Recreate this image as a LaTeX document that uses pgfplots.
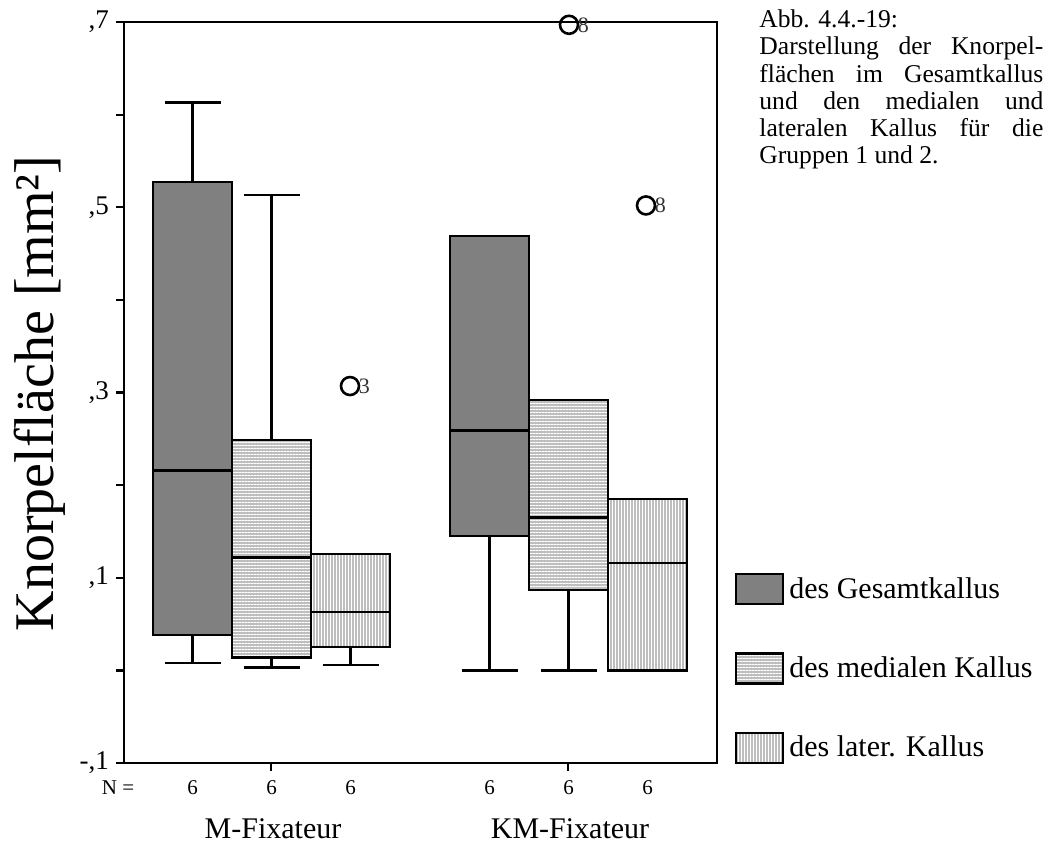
\documentclass[border=0pt]{standalone}
\usepackage{fontspec}
\setmainfont{Liberation Serif}
\usepackage{pgfplots}
\pgfplotsset{compat=1.18}
\usepgfplotslibrary{statistics}
\usetikzlibrary{patterns.meta}

\definecolor{gesgray}{RGB}{128,128,128}
\definecolor{ltgray}{RGB}{190,190,190}
\tikzset{
  gesfill/.style={fill=gesgray},
  medfill/.style={fill=ltgray, postaction={pattern={Lines[angle=0,distance=1.5pt,line width=0.5pt]}, pattern color=white}},
  latfill/.style={fill=ltgray, postaction={pattern={Lines[angle=90,distance=1.5pt,line width=0.5pt]}, pattern color=white}},
}

\begin{document}
\begin{tikzpicture}
\begin{axis}[
  scale only axis,
  width=296.5pt, height=370.5pt,
  xmin=124, xmax=717,
  ymin=-0.1, ymax=0.7,
  clip=false,
  boxplot/draw direction=y,
  axis line style={line width=1.3pt},
  tick style={line width=1.1pt, black},
  tick align=outside,
  xtick pos=bottom, ytick pos=left,
  major tick length=4pt,
  xtick={271,568},
  xticklabels={},
  ytick={-0.1,0,0.1,0.2,0.3,0.4,0.5,0.6,0.7},
  yticklabels={{-,1},{},{,1},{},{,3},{},{,5},{},{,7}},
  yticklabel style={font=\fontsize{13.5}{16}\selectfont},
  /pgf/number format/assume math mode=true,
  legend style={at={(axis cs:728.5,0.110)}, anchor=north west, draw=none, fill=none,
    font=\fontsize{15}{18}\selectfont, row sep=23.5pt, column sep=1.5pt,
    nodes={inner sep=1pt}},
  legend cell align=left,
]
\addplot[black, line width=1.2pt,
  boxplot prepared={draw position=192.5, box extend=79, whisker extend=56,
    lower whisker=0.008, lower quartile=0.038, median=0.216,
    upper quartile=0.527, upper whisker=0.613},
  boxplot/every box/.style={gesfill},
  legend image code/.code={\draw[gesfill, draw=black, line width=1.2pt] (0pt,-7.5pt) rectangle (23.5pt,7.5pt);}
] coordinates {};
\addlegendentry{des Gesamtkallus}
\addplot[black, line width=1.2pt,
  boxplot prepared={draw position=271.5, box extend=79, whisker extend=56,
    lower whisker=0.003, lower quartile=0.014, median=0.122,
    upper quartile=0.249, upper whisker=0.513},
  boxplot/every box/.style={medfill},
  legend image code/.code={\draw[medfill, draw=black, line width=1.2pt] (0pt,-7.5pt) rectangle (23.5pt,7.5pt);}
] coordinates {};
\addlegendentry{des medialen Kallus}
\addplot[black, line width=1.2pt,
  boxplot prepared={draw position=350.5, box extend=79, whisker extend=56,
    lower whisker=0.006, lower quartile=0.025, median=0.063,
    upper quartile=0.126, upper whisker=0.126},
  boxplot/every box/.style={latfill},
  legend image code/.code={\draw[latfill, draw=black, line width=1.2pt] (0pt,-7.5pt) rectangle (23.5pt,7.5pt);}
] coordinates {};
\addlegendentry{des later. Kallus}
\addplot[black, line width=1.2pt, forget plot,
  boxplot prepared={draw position=489.5, box extend=79, whisker extend=56,
    lower whisker=0.0, lower quartile=0.145, median=0.259,
    upper quartile=0.469, upper whisker=0.469},
  boxplot/every box/.style={gesfill}
] coordinates {};
\addplot[black, line width=1.2pt, forget plot,
  boxplot prepared={draw position=568.5, box extend=79, whisker extend=56,
    lower whisker=0.0, lower quartile=0.087, median=0.165,
    upper quartile=0.292, upper whisker=0.292},
  boxplot/every box/.style={medfill}
] coordinates {};
\addplot[black, line width=1.2pt, forget plot,
  boxplot prepared={draw position=647.5, box extend=79, whisker extend=56,
    lower whisker=0.0, lower quartile=0.0, median=0.116,
    upper quartile=0.185, upper whisker=0.185},
  boxplot/every box/.style={latfill}
] coordinates {};
\addplot[only marks, mark=o, mark size=4.5pt, forget plot,
  mark options={line width=1.3pt, black},
  point meta=explicit symbolic, nodes near coords,
  every node near coord/.append style={anchor=west, inner sep=0pt, xshift=3.8pt,
    font=\fontsize{11}{11}\selectfont, text=black!80}
] table[meta=label] {
x y label
350 0.307 3
569 0.697 8
646 0.502 8
};
% N row and group labels
\node[anchor=base, font=\fontsize{10.5}{12}\selectfont] at (axis cs:118,-0.1335) {N =};
\node[anchor=base, font=\fontsize{10.5}{12}\selectfont] at (axis cs:192.5,-0.1335) {6};
\node[anchor=base, font=\fontsize{10.5}{12}\selectfont] at (axis cs:271.5,-0.1335) {6};
\node[anchor=base, font=\fontsize{10.5}{12}\selectfont] at (axis cs:350.5,-0.1335) {6};
\node[anchor=base, font=\fontsize{10.5}{12}\selectfont] at (axis cs:489.5,-0.1335) {6};
\node[anchor=base, font=\fontsize{10.5}{12}\selectfont] at (axis cs:568.5,-0.1335) {6};
\node[anchor=base, font=\fontsize{10.5}{12}\selectfont] at (axis cs:647.5,-0.1335) {6};
\node[anchor=base, font=\fontsize{15}{18}\selectfont] at (axis cs:273,-0.181) {M-Fixateur};
\node[anchor=base, font=\fontsize{15}{18}\selectfont] at (axis cs:570,-0.181) {KM-Fixateur};
\node[rotate=90, anchor=center, font=\fontsize{28}{32}\selectfont] at (axis cs:40,0.299) {Knorpelfläche [mm²]};
\node[anchor=north west, inner sep=0pt, font=\fontsize{12.8}{13.6}\selectfont] at (axis cs:759,0.7135)
  {\parbox[t]{142pt}{\setlength{\parindent}{0pt}Abb. 4.4.-19:\\
  Darstellung der Knorpel-\linebreak flächen im Gesamtkallus\linebreak und den medialen und\linebreak lateralen Kallus für die\linebreak Gruppen 1 und 2.}};
\coordinate (BL) at (axis cs:0,-0.1876);
\coordinate (TR) at (axis cs:1064,0.7238);
\end{axis}
\pgfresetboundingbox
\path[use as bounding box] (BL) rectangle (TR);
\end{tikzpicture}
\end{document}
